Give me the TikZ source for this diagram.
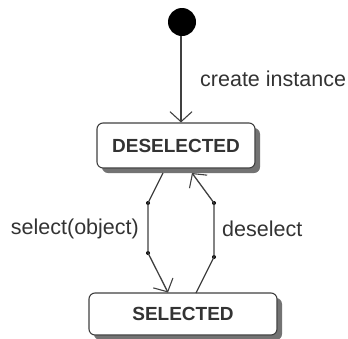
\documentclass[tikz,border=0pt]{standalone}
\usepackage{fontspec}
\setmainfont{Liberation Sans}
\usetikzlibrary{arrows.meta,shadows}
\begin{document}
\begin{tikzpicture}[x=1pt,y=-1pt,
  state/.style={draw=black!75, line width=1.1pt, fill=white, rounded corners=6pt,
    font=\fontsize{19}{21}\selectfont\bfseries, text=black!80,
    general shadow={shadow xshift=5pt, shadow yshift=-5pt, fill=black!55, draw=none}},
  conn/.style={draw=black!75, line width=1.3pt},
  tip/.style={-{Straight Barb[length=10pt,width=22pt,line width=1.1pt]}},
  lbl/.style={font=\fontsize{21.5}{23}\selectfont, text=black!80, inner sep=0pt},
  bendpt/.style={circle, fill=black, inner sep=0pt, minimum size=4pt}
]
\useasboundingbox (0,0) rectangle (348,338);
\node[circle, fill=black, minimum size=28pt, inner sep=0pt] (init) at (182,22) {};
\node[state, minimum width=158pt, minimum height=45pt, inner sep=0pt] (des) at (176,145.5) {DESELECTED};
\node[state, minimum width=188pt, minimum height=42pt, inner sep=0pt] (sel) at (183,314) {SELECTED};
\draw[conn, tip] (init.south -| 181,0) -- (des.north -| 181,0);
% left connector
\coordinate (ls) at (163,173);
\node[bendpt] (l1) at (148,203) {};
\node[bendpt] (l2) at (148,253) {};
\draw[conn, tip] (ls) -- (l1.center) -- (l2.center) -- (168,292.5) coordinate (le);
% right connector
\node[bendpt] (r1) at (214,257) {};
\node[bendpt] (r2) at (214,203) {};
\draw[conn, tip] (196,293) coordinate (rs) -- (r1.center) -- (r2.center) -- (192,173) coordinate (re);
\node[lbl, anchor=west] (ci) at (200,79) {create instance};
\node[lbl, anchor=east] (so) at (139,229) {select(object)};
\node[lbl, anchor=west] (ds) at (222,229) {deselect};
\end{tikzpicture}
\end{document}
